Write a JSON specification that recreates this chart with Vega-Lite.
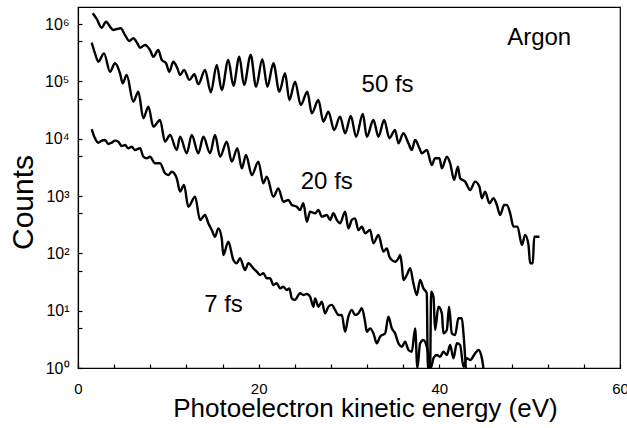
{
  "$schema": "https://vega.github.io/schema/vega-lite/v6.json",
  "width": 542,
  "height": 361,
  "autosize": {"type": "none"},
  "padding": {"left": 78, "top": 7, "right": 7, "bottom": 60},
  "background": "white",
  "config": {
    "view": {"stroke": "black", "strokeWidth": 1.2},
    "font": "Liberation Sans"
  },
  "datasets": {
    "curves": [
      {"s":"50","E":1.63,"counts":1540000},{"s":"50","E":2.07,"counts":1224000},{"s":"50","E":2.62,"counts":863000},{"s":"50","E":3.10,"counts":1097000},{"s":"50","E":3.62,"counts":863000},{"s":"50","E":3.91,"counts":787000},{"s":"50","E":4.29,"counts":818000},{"s":"50","E":4.73,"counts":841000},{"s":"50","E":5.20,"counts":644000},{"s":"50","E":5.68,"counts":506000},{"s":"50","E":6.12,"counts":564000},{"s":"50","E":6.57,"counts":461000},{"s":"50","E":6.87,"counts":386000},{"s":"50","E":7.42,"counts":431000},{"s":"50","E":7.97,"counts":352000},{"s":"50","E":8.34,"counts":269000},{"s":"50","E":8.89,"counts":352000},{"s":"50","E":9.27,"counts":236000},{"s":"50","E":9.75,"counts":207000},{"s":"50","E":10.11,"counts":147000},{"s":"50","E":10.55,"counts":220000},{"s":"50","E":11.00,"counts":169000},{"s":"50","E":11.30,"counts":129000},{"s":"50","E":11.74,"counts":158000},{"s":"50","E":12.33,"counts":106000},{"s":"50","E":12.88,"counts":133000},{"s":"50","E":13.32,"counts":88900},{"s":"50","E":14.06,"counts":158000},{"s":"50","E":14.70,"counts":64400},{"s":"50","E":15.36,"counts":193000},{"s":"50","E":15.91,"counts":70600},{"s":"50","E":16.64,"counts":236000},{"s":"50","E":17.20,"counts":83900},{"s":"50","E":17.86,"counts":269000},{"s":"50","E":18.38,"counts":86300},{"s":"50","E":19.12,"counts":288000},{"s":"50","E":19.71,"counts":80700},{"s":"50","E":20.41,"counts":243000},{"s":"50","E":20.96,"counts":80700},{"s":"50","E":21.63,"counts":207000},{"s":"50","E":22.29,"counts":66000},{"s":"50","E":22.92,"counts":138000},{"s":"50","E":23.40,"counts":47300},{"s":"50","E":24.03,"counts":98600},{"s":"50","E":24.66,"counts":38700},{"s":"50","E":25.39,"counts":66000},{"s":"50","E":25.88,"counts":27700},{"s":"50","E":26.61,"counts":47300},{"s":"50","E":27.16,"counts":19800},{"s":"50","E":27.72,"counts":29600},{"s":"50","E":28.35,"counts":14200},{"s":"50","E":29.01,"counts":24200},{"s":"50","E":29.57,"counts":12400},{"s":"50","E":30.20,"counts":24900},{"s":"50","E":30.79,"counts":10800},{"s":"50","E":31.53,"counts":26900},{"s":"50","E":31.97,"counts":10800},{"s":"50","E":32.70,"counts":21200},{"s":"50","E":33.26,"counts":10800},{"s":"50","E":33.89,"counts":21200},{"s":"50","E":34.47,"counts":10200},{"s":"50","E":35.10,"counts":14200},{"s":"50","E":35.47,"counts":8300},{"s":"50","E":36.02,"counts":12400},{"s":"50","E":36.58,"counts":8300},{"s":"50","E":36.95,"counts":6350},{"s":"50","E":37.32,"counts":9480},{"s":"50","E":37.80,"counts":6790},{"s":"50","E":38.06,"counts":5560},{"s":"50","E":38.61,"counts":6350},{"s":"50","E":39.17,"counts":3480},{"s":"50","E":39.53,"counts":4550},{"s":"50","E":40.01,"counts":4550},{"s":"50","E":40.28,"counts":3040},{"s":"50","E":40.83,"counts":4850},{"s":"50","E":41.20,"counts":3720},{"s":"50","E":41.64,"counts":1900},{"s":"50","E":42.05,"counts":3240},{"s":"50","E":42.30,"counts":2040},{"s":"50","E":42.86,"counts":1780},{"s":"50","E":43.41,"counts":1270},{"s":"50","E":43.96,"counts":1780},{"s":"50","E":44.44,"counts":1450},{"s":"50","E":44.71,"counts":912},{"s":"50","E":45.07,"counts":1190},{"s":"50","E":45.55,"counts":746},{"s":"50","E":45.99,"counts":912},{"s":"50","E":46.37,"counts":697},{"s":"50","E":46.73,"counts":467},{"s":"50","E":47.18,"counts":697},{"s":"50","E":47.47,"counts":697},{"s":"50","E":47.84,"counts":499},{"s":"50","E":48.21,"counts":292},{"s":"50","E":48.65,"counts":292},{"s":"50","E":49.14,"counts":140},{"s":"50","E":49.50,"counts":209},{"s":"50","E":49.87,"counts":140},{"s":"50","E":50.05,"counts":67},{"s":"50","E":50.35,"counts":67},{"s":"50","E":50.50,"counts":195},{"s":"50","E":51.08,"counts":195},
      {"s":"20","E":1.52,"counts":472000},{"s":"20","E":1.88,"counts":308000},{"s":"20","E":2.25,"counts":220000},{"s":"20","E":2.88,"counts":308000},{"s":"20","E":3.54,"counts":147000},{"s":"20","E":4.10,"counts":207000},{"s":"20","E":4.65,"counts":138000},{"s":"20","E":4.95,"counts":92500},{"s":"20","E":5.39,"counts":129000},{"s":"20","E":6.12,"counts":44200},{"s":"20","E":6.68,"counts":66000},{"s":"20","E":7.23,"counts":22700},{"s":"20","E":7.79,"counts":36100},{"s":"20","E":8.34,"counts":16200},{"s":"20","E":9.08,"counts":21200},{"s":"20","E":9.63,"counts":8860},{"s":"20","E":10.19,"counts":11600},{"s":"20","E":10.93,"counts":6350},{"s":"20","E":11.30,"counts":10800},{"s":"20","E":12.04,"counts":5560},{"s":"20","E":12.59,"counts":11600},{"s":"20","E":13.32,"counts":5560},{"s":"20","E":13.88,"counts":10800},{"s":"20","E":14.62,"counts":5560},{"s":"20","E":15.17,"counts":11600},{"s":"20","E":15.73,"counts":4850},{"s":"20","E":16.47,"counts":8860},{"s":"20","E":17.02,"counts":3970},{"s":"20","E":17.64,"counts":6790},{"s":"20","E":18.13,"counts":3040},{"s":"20","E":18.60,"counts":5190},{"s":"20","E":19.24,"counts":2320},{"s":"20","E":19.97,"counts":3970},{"s":"20","E":20.52,"counts":1670},{"s":"20","E":20.90,"counts":2170},{"s":"20","E":21.63,"counts":973},{"s":"20","E":22.18,"counts":1360},{"s":"20","E":22.73,"counts":796},{"s":"20","E":23.29,"counts":851},{"s":"20","E":23.67,"counts":697},{"s":"20","E":24.22,"counts":651},{"s":"20","E":24.58,"counts":570},{"s":"20","E":24.95,"counts":746},{"s":"20","E":25.33,"counts":356},{"s":"20","E":25.69,"counts":532},{"s":"20","E":26.25,"counts":499},{"s":"20","E":26.61,"counts":570},{"s":"20","E":26.99,"counts":436},{"s":"20","E":27.54,"counts":467},{"s":"20","E":27.91,"counts":382},{"s":"20","E":28.27,"counts":499},{"s":"20","E":28.65,"counts":382},{"s":"20","E":29.01,"counts":334},{"s":"20","E":29.57,"counts":532},{"s":"20","E":29.93,"counts":273},{"s":"20","E":30.31,"counts":382},{"s":"20","E":30.67,"counts":408},{"s":"20","E":31.04,"counts":255},{"s":"20","E":31.42,"counts":292},{"s":"20","E":31.78,"counts":224},{"s":"20","E":32.34,"counts":255},{"s":"20","E":32.70,"counts":150},{"s":"20","E":33.26,"counts":209},{"s":"20","E":33.81,"counts":107},{"s":"20","E":34.19,"counts":122},{"s":"20","E":34.47,"counts":87},{"s":"20","E":34.74,"counts":76.5},{"s":"20","E":35.10,"counts":71.5},{"s":"20","E":35.47,"counts":81.9},{"s":"20","E":35.66,"counts":93.5},{"s":"20","E":35.85,"counts":62.6},{"s":"20","E":36.02,"counts":34.3},{"s":"20","E":36.40,"counts":41.9},{"s":"20","E":36.77,"counts":54.8},{"s":"20","E":37.13,"counts":30.0},{"s":"20","E":37.51,"counts":18.8},{"s":"20","E":37.87,"counts":34.3},{"s":"20","E":38.24,"counts":24.5},{"s":"20","E":38.61,"counts":20.1},{"s":"20","E":38.73,"counts":1},{"s":"20","E":38.98,"counts":1},{"s":"20","E":39.09,"counts":21.4},{"s":"20","E":39.35,"counts":17.5},{"s":"20","E":39.53,"counts":4.6},{"s":"20","E":39.90,"counts":11.7},{"s":"20","E":40.28,"counts":9.0},{"s":"20","E":40.45,"counts":4.03},{"s":"20","E":40.83,"counts":4.6},{"s":"20","E":41.08,"counts":11.7},{"s":"20","E":41.38,"counts":4.03},{"s":"20","E":41.75,"counts":3.77},{"s":"20","E":42.11,"counts":7.36},{"s":"20","E":42.49,"counts":7.36},{"s":"20","E":42.67,"counts":4.03},{"s":"20","E":42.93,"counts":1},
      {"s":"7","E":1.52,"counts":14600},{"s":"7","E":1.88,"counts":10200},{"s":"7","E":2.25,"counts":8510},{"s":"7","E":2.62,"counts":9230},{"s":"7","E":2.99,"counts":9480},{"s":"7","E":3.36,"counts":8070},{"s":"7","E":3.73,"counts":8510},{"s":"7","E":4.10,"counts":9230},{"s":"7","E":4.46,"counts":8860},{"s":"7","E":4.84,"counts":7450},{"s":"7","E":5.20,"counts":7760},{"s":"7","E":5.57,"counts":6790},{"s":"7","E":5.95,"counts":7250},{"s":"7","E":6.31,"counts":6350},{"s":"7","E":6.87,"counts":6790},{"s":"7","E":7.23,"counts":4850},{"s":"7","E":7.61,"counts":4550},{"s":"7","E":7.97,"counts":4850},{"s":"7","E":8.53,"counts":3720},{"s":"7","E":9.08,"counts":3720},{"s":"7","E":9.63,"counts":2490},{"s":"7","E":10.00,"counts":2320},{"s":"7","E":10.38,"counts":2650},{"s":"7","E":10.93,"counts":2040},{"s":"7","E":11.30,"counts":1190},{"s":"7","E":11.74,"counts":1560},{"s":"7","E":12.21,"counts":651},{"s":"7","E":12.96,"counts":973},{"s":"7","E":13.51,"counts":382},{"s":"7","E":14.06,"counts":467},{"s":"7","E":14.43,"counts":334},{"s":"7","E":14.81,"counts":255},{"s":"7","E":15.17,"counts":195},{"s":"7","E":15.54,"counts":273},{"s":"7","E":15.91,"counts":183},{"s":"7","E":16.09,"counts":93.5},{"s":"7","E":16.64,"counts":160},{"s":"7","E":17.20,"counts":76.5},{"s":"7","E":17.57,"counts":67},{"s":"7","E":17.94,"counts":81.9},{"s":"7","E":18.49,"counts":51.2},{"s":"7","E":18.86,"counts":67},{"s":"7","E":19.41,"counts":54.8},{"s":"7","E":19.79,"counts":47.9},{"s":"7","E":20.15,"counts":41.9},{"s":"7","E":20.52,"counts":44.9},{"s":"7","E":20.90,"counts":36.7},{"s":"7","E":21.26,"counts":36.7},{"s":"7","E":21.63,"counts":28.0},{"s":"7","E":22.00,"counts":30.0},{"s":"7","E":22.37,"counts":24.5},{"s":"7","E":22.73,"counts":26.2},{"s":"7","E":23.11,"counts":22.9},{"s":"7","E":23.40,"counts":24.5},{"s":"7","E":23.67,"counts":16.4},{"s":"7","E":24.03,"counts":15.4},{"s":"7","E":24.40,"counts":18.8},{"s":"7","E":24.58,"counts":20.1},{"s":"7","E":24.95,"counts":18.8},{"s":"7","E":25.33,"counts":19.5},{"s":"7","E":25.69,"counts":17.5},{"s":"7","E":26.06,"counts":11.7},{"s":"7","E":26.25,"counts":16.4},{"s":"7","E":26.61,"counts":11.7},{"s":"7","E":26.99,"counts":14.3},{"s":"7","E":27.35,"counts":9.0},{"s":"7","E":27.72,"counts":11.7},{"s":"7","E":28.09,"counts":12.6},{"s":"7","E":28.46,"counts":10.3},{"s":"7","E":28.83,"counts":8.4},{"s":"7","E":29.20,"counts":8.4},{"s":"7","E":29.57,"counts":4.3},{"s":"7","E":29.93,"counts":7.85},{"s":"7","E":30.31,"counts":10.3},{"s":"7","E":30.67,"counts":8.4},{"s":"7","E":31.04,"counts":9.0},{"s":"7","E":31.42,"counts":11.0},{"s":"7","E":31.78,"counts":6.42},{"s":"7","E":31.97,"counts":4.3},{"s":"7","E":32.34,"counts":4.92},{"s":"7","E":32.70,"counts":4.03},{"s":"7","E":33.08,"counts":2.7},{"s":"7","E":33.44,"counts":3.52},{"s":"7","E":34.00,"counts":4.03},{"s":"7","E":34.36,"counts":7.85},{"s":"7","E":34.74,"counts":4.92},{"s":"7","E":35.10,"counts":4.03},{"s":"7","E":35.47,"counts":2.7},{"s":"7","E":35.85,"counts":2.35},{"s":"7","E":36.21,"counts":2.88},{"s":"7","E":36.58,"counts":2.06},{"s":"7","E":36.95,"counts":1.92},{"s":"7","E":37.32,"counts":4.92},{"s":"7","E":37.57,"counts":1},{"s":"7","E":37.87,"counts":2.7},{"s":"7","E":38.24,"counts":3.08},{"s":"7","E":38.61,"counts":2.35},{"s":"7","E":38.90,"counts":1.38},{"s":"7","E":39.05,"counts":1},{"s":"7","E":39.35,"counts":1.48},{"s":"7","E":39.72,"counts":1.69},{"s":"7","E":40.09,"counts":1.57},{"s":"7","E":40.45,"counts":1.92},{"s":"7","E":40.83,"counts":1.69},{"s":"7","E":41.20,"counts":2.52},{"s":"7","E":41.56,"counts":1.48},{"s":"7","E":41.94,"counts":2.7},{"s":"7","E":42.30,"counts":2.52},{"s":"7","E":42.67,"counts":1.05},{"s":"7","E":43.04,"counts":1.48},{"s":"7","E":43.41,"counts":1.38},{"s":"7","E":43.96,"counts":1.8},{"s":"7","E":44.33,"counts":2.06},{"s":"7","E":44.71,"counts":1.48},{"s":"7","E":44.88,"counts":1}
    ],
    "labels": [
      {"label":"Argon","E":51.05,"counts":431000},
      {"label":"50 fs","E":34.27,"counts":66000},
      {"label":"20 fs","E":27.54,"counts":1310},
      {"label":"7 fs","E":16.11,"counts":9.6}
    ]
  },
  "encoding": {
    "x": {
      "field": "E",
      "type": "quantitative",
      "title": "Photoelectron kinetic energy (eV)",
      "scale": {"domain": [0, 60], "nice": false, "zero": false},
      "axis": {
        "values": [0,4,8,12,16,20,24,28,32,36,40,44,48,52,56,60],
        "labelExpr": "datum.value % 20 == 0 ? datum.label : ''",
        "grid": false,
        "tickSize": -4,
        "tickColor": "black",
        "tickWidth": 1.2,
        "domainColor": "black",
        "domainWidth": 1.2,
        "labelFont": "Liberation Sans",
        "labelFontSize": 15,
        "labelColor": "black",
        "labelPadding": 17,
        "labelFlush": false,
        "labelOverlap": false,
        "titleFont": "Liberation Sans",
        "titleFontSize": 26,
        "titleFontWeight": "normal",
        "titleColor": "black",
        "titleX": 287,
        "titleY": 48,
        "titleAlign": "center",
        "titleBaseline": "alphabetic"
      }
    },
    "y": {
      "field": "counts",
      "type": "quantitative",
      "title": "Counts",
      "scale": {"type": "log", "domain": [1, 1980000], "nice": false},
      "axis": {
        "values": [1,5,10,50,100,500,1000,5000,10000,50000,100000,500000,1000000],
        "labelExpr": "datum.value==1?'10⁰':datum.value==10?'10¹':datum.value==100?'10²':datum.value==1000?'10³':datum.value==10000?'10⁴':datum.value==100000?'10⁵':datum.value==1000000?'10⁶':''",
        "grid": false,
        "tickSize": -4,
        "tickColor": "black",
        "tickWidth": 1.2,
        "domainColor": "black",
        "domainWidth": 1.2,
        "labelFont": "Liberation Sans",
        "labelFontSize": 16,
        "labelColor": "black",
        "labelPadding": 13,
        "labelBaseline": "middle",
        "labelOverlap": false,
        "labelFlush": false,
        "titleFont": "Liberation Sans",
        "titleFontSize": 30,
        "titleFontWeight": "normal",
        "titleColor": "black",
        "titleX": -46,
        "titleY": 195,
        "titleAngle": 270,
        "titleAlign": "center",
        "titleBaseline": "alphabetic"
      }
    }
  },
  "layer": [
    {
      "data": {"name": "curves"},
      "mark": {"type": "line", "stroke": "black", "strokeWidth": 2.4, "clip": true, "interpolate": "monotone", "strokeJoin": "round"},
      "encoding": {"detail": {"field": "s", "type": "nominal"}}
    },
    {
      "data": {"name": "labels"},
      "mark": {"type": "text", "font": "Liberation Sans", "fontSize": 24, "color": "black", "align": "center", "baseline": "alphabetic"},
      "encoding": {"text": {"field": "label", "type": "nominal"}}
    }
  ]
}
